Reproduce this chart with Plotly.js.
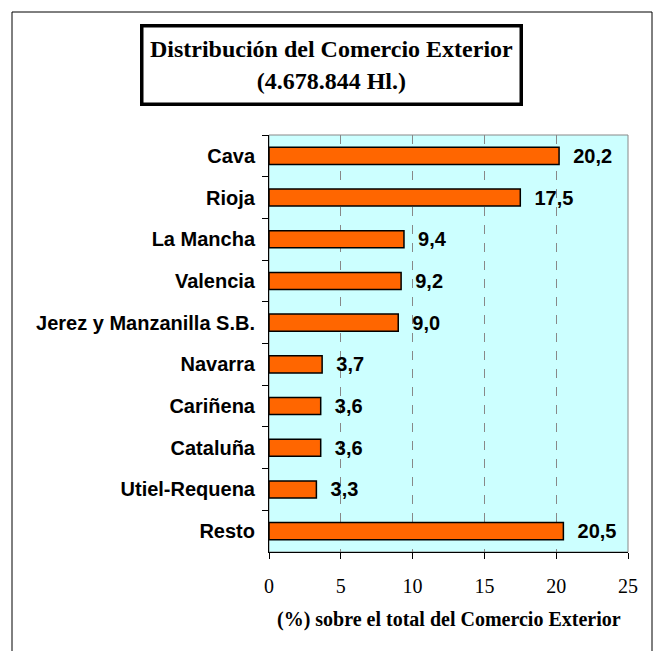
<!DOCTYPE html>
<html>
<head>
<meta charset="utf-8">
<script src="https://cdn.plot.ly/plotly-3.0.1.min.js"></script>
<style>html,body{margin:0;padding:0;background:#fff;}#chart{width:661px;height:651px;}</style>
</head>
<body>
<div id="chart"></div>
<script>
const categories = ["Cava", "Rioja", "La Mancha", "Valencia", "Jerez y Manzanilla S.B.", "Navarra", "Cariñena", "Cataluña", "Utiel-Requena", "Resto"];
const values = [20.2, 17.5, 9.4, 9.2, 9.0, 3.7, 3.6, 3.6, 3.3, 20.5];
const xTicks = [0, 5, 10, 15, 20, 25];
const titleText = "<b>Distribución del Comercio Exterior<br>(4.678.844 Hl.)</b>";
const xTitleText = "<b>(%) sobre el total del Comercio Exterior</b>";

const trace = {
  type: "bar",
  orientation: "h",
  y: categories,
  x: values,
  marker: {color: "#FF6600", line: {color: "#000000", width: 1.5}},
  texttemplate: "\u00a0\u00a0<b>%{x:.1f}</b>",
  textposition: "outside",
  constraintext: "none",
  cliponaxis: false,
  textfont: {family: "Liberation Sans, Arial, sans-serif", size: 20, color: "#000"},
  hoverinfo: "none"
};

const layout = {
  width: 661, height: 651,
  margin: {l: 269, r: 33, t: 135, b: 99},
  paper_bgcolor: "#ffffff",
  plot_bgcolor: "#CCFFFF",
  separators: ",.",
  showlegend: false,
  bargap: 0.59,
  xaxis: {
    range: [0, 25],
    tickvals: xTicks,
    ticktext: xTicks.map(String),
    showgrid: true,
    gridcolor: "#888888",
    griddash: "dash",
    gridwidth: 1,
    zeroline: false,
    showline: true,
    linecolor: "#000",
    linewidth: 1,
    ticks: "outside",
    ticklen: 6,
    tickcolor: "#000",
    ticklabelstandoff: 10,
    tickfont: {family: "Liberation Serif, Times New Roman, serif", size: 20, color: "#000"},
    fixedrange: true
  },
  yaxis: {
    type: "category",
    autorange: "reversed",
    showgrid: false,
    zeroline: false,
    showline: true,
    linecolor: "#000",
    linewidth: 1,
    ticks: "outside",
    tickson: "boundaries",
    ticklen: 6,
    tickcolor: "#000",
    ticklabelstandoff: 9,
    tickfont: {family: "Liberation Sans, Arial, sans-serif", size: 20, color: "#000", weight: "bold"},
    fixedrange: true
  },
  shapes: [
    {type: "rect", xref: "paper", yref: "paper", x0: 0, x1: 1, y0: 0, y1: 1,
     line: {color: "#888888", width: 1}, layer: "below"},
    {type: "rect", xref: "paper", yref: "paper",
     x0: (12 - 269) / 359, x1: (652 - 269) / 359,
     y0: (552 - 660) / 417, y1: (552 - 12) / 417,
     line: {color: "#000", width: 1}}
  ],
  annotations: [
    {xref: "paper", yref: "paper", x: (331 - 269) / 359, y: (552 - 65) / 417,
     xanchor: "center", yanchor: "middle", showarrow: false,
     text: titleText,
     font: {family: "Liberation Serif, Times New Roman, serif", size: 24, color: "#000"},
     width: 376, height: 75, borderpad: 0, bordercolor: "#000", borderwidth: 3.5,
     bgcolor: "#fff"},
    {xref: "paper", yref: "paper", x: 0.5, y: (552 - 619) / 417,
     xanchor: "center", yanchor: "middle", showarrow: false,
     text: xTitleText,
     font: {family: "Liberation Serif, Times New Roman, serif", size: 20, color: "#000"}}
  ]
};

Plotly.newPlot("chart", [trace], layout, {displayModeBar: false, staticPlot: true});
</script>
</body>
</html>
